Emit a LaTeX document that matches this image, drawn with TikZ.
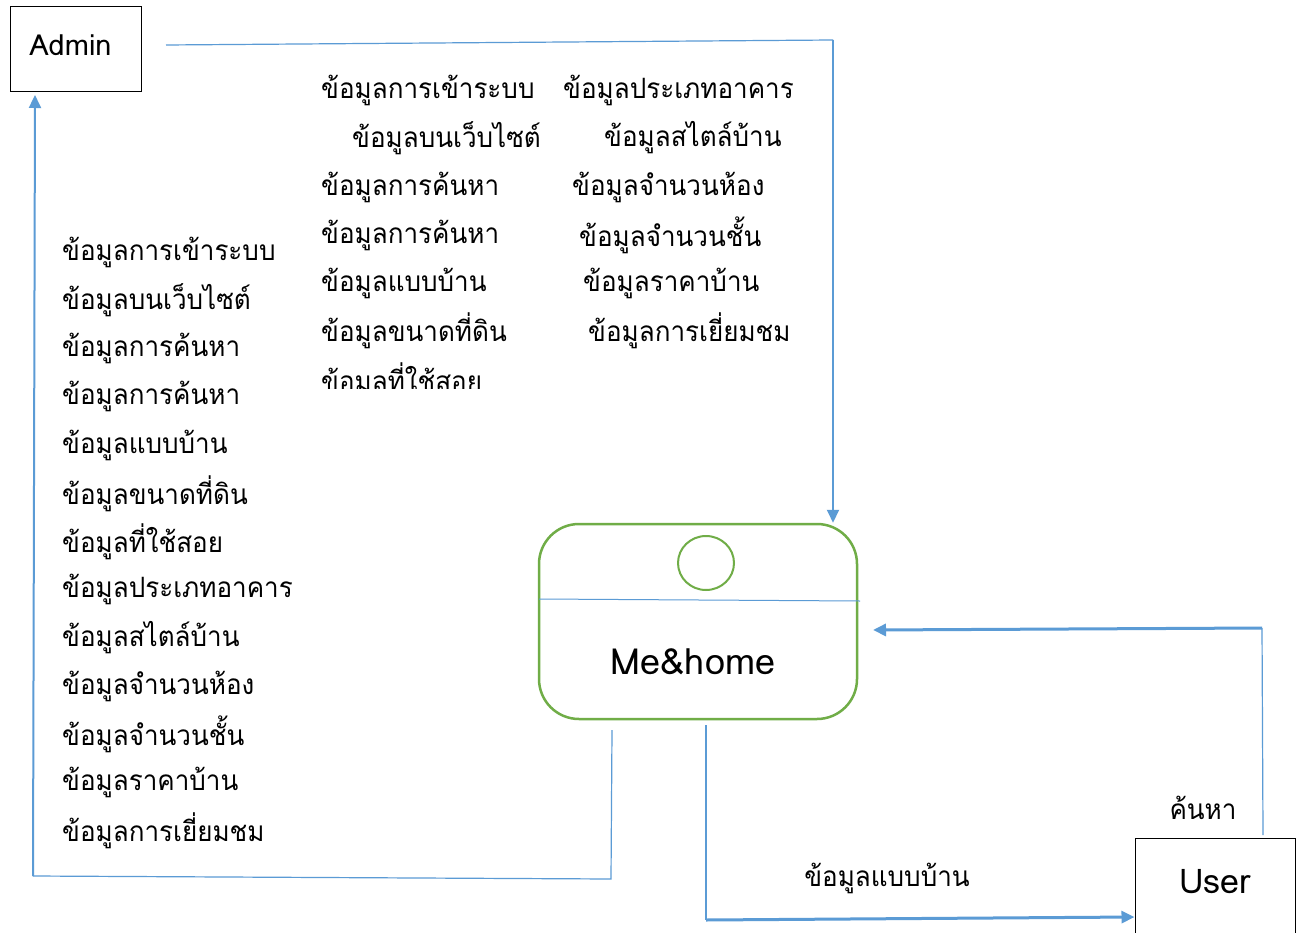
\documentclass[tikz,border=0pt]{standalone}
\usepackage{fontspec}
\newfontfamily\thai[Script=Thai]{Loma}
\newfontfamily\thain[Script=Thai,FakeStretch=0.93]{Loma}
\usetikzlibrary{arrows.meta,shapes.geometric}
\definecolor{lblue}{HTML}{5B9BD5}
\definecolor{lgreen}{HTML}{70AD47}
\tikzset{
  ent/.style={draw=black, line width=1pt, minimum width=131pt, minimum height=85pt, inner sep=0pt},
  flow/.style={draw=lblue, line width=1.2pt},
  flowarr/.style={draw=lblue, line width=2pt, -{Triangle[length=13pt,width=12pt]}, fill=lblue},
  lbl/.style={anchor=west, inner sep=0pt, font=\thain\fontsize{28}{30}\selectfont},
  big/.style={inner sep=0pt, font=\thai\fontsize{#1}{#1}\selectfont},
}
\begin{document}
\begin{tikzpicture}[x=1pt, y=-1pt]
\useasboundingbox (0,0) rectangle (1300,933);
\fill[white] (0,0) rectangle (1300,933);
% entities
\node[ent] (admin) at (75.5,49.5) {};
\node[big=29] (admint) at (70.5,45) {Admin};
\node[ent, minimum width=160pt, minimum height=100pt] (user) at (1215,888) {};
\node[big=34] (usert) at (1215,882) {User};
% process
\node[draw=lgreen, line width=2.5pt, rounded corners=40pt, minimum width=318pt, minimum height=195pt] (me) at (698,621.5) {};
\node[draw=lgreen, line width=2pt, ellipse, minimum width=56pt, minimum height=54pt, inner sep=0pt] (dot) at (706,563) {};
\node[big=36] (met) at (693,662) {Me\&home};
\coordinate (sepl) at (539,599);
\coordinate (sepr) at (860,601);
\draw[lblue, line width=1pt] (sepl) -- (sepr);
% admin -> me
\coordinate (a1) at (166,45);
\coordinate (a2) at (833,40);
\draw[flow] (a1) -- (a2);
\draw[flowarr] (a2) -- (me.north -| a2);
% me -> admin
\coordinate (b1) at (612,730);
\coordinate (b2) at (611,879);
\coordinate (b3) at (33,876);
\draw[flow] (b1) -- (b2) -- (b3);
\draw[flowarr] (b3) -- (35,95) coordinate (b4);
% user -> me
\coordinate (c1) at (1263,835);
\coordinate (c2) at (1262,628);
\coordinate (c3) at (873,630);
\draw[flow] (c1) -- (c2);
\draw[flowarr, line width=3pt] (c2) -- (c3);
% me -> user
\coordinate (d1) at (706,725);
\coordinate (d2) at (706,920);
\draw[flow] (d1) -- (d2);
\draw[flowarr, line width=3pt] (d2) -- (user.west |- 0,917);
% labels
\node[lbl, anchor=center] (lsearch) at (1203,808) {ค้นหา};
\node[lbl, anchor=center] (lhouse) at (887,878) {ข้อมูลแบบบ้าน};
% left column
\foreach \t [count=\i from 0] in {ข้อมูลการเข้าระบบ,ข้อมูลบนเว็บไซต์,ข้อมูลการค้นหา,ข้อมูลการค้นหา,ข้อมูลแบบบ้าน,ข้อมูลขนาดที่ดิน,ข้อมูลที่ใช้สอย,ข้อมูลประเภทอาคาร,ข้อมูลสไตล์บ้าน,ข้อมูลจำนวนห้อง,ข้อมูลจำนวนชั้น,ข้อมูลราคาบ้าน,ข้อมูลการเยี่ยมชม}
  \node[lbl] (l\i) at (62,{252+48.25*\i}) {\t};
% middle columns
\node[lbl] (m0) at (321,90) {ข้อมูลการเข้าระบบ};
\node[lbl] (m1) at (352,138) {ข้อมูลบนเว็บไซต์};
\node[lbl] (m2) at (321,187) {ข้อมูลการค้นหา};
\node[lbl] (m3) at (321,235) {ข้อมูลการค้นหา};
\node[lbl] (m4) at (321,283) {ข้อมูลแบบบ้าน};
\node[lbl] (m5) at (321,331) {ข้อมูลขนาดที่ดิน};
\begin{scope}
\clip (300,350) rectangle (560,388);
\node[lbl] (m6) at (321,381) {ข้อมูลที่ใช้สอย};
\end{scope}
\node[lbl] (r0) at (563,90) {ข้อมูลประเภทอาคาร};
\node[lbl] (r1) at (604,138) {ข้อมูลสไตล์บ้าน};
\node[lbl] (r2) at (572,187) {ข้อมูลจำนวนห้อง};
\node[lbl] (r3) at (579,235) {ข้อมูลจำนวนชั้น};
\node[lbl] (r4) at (583,283) {ข้อมูลราคาบ้าน};
\node[lbl] (r5) at (588,331) {ข้อมูลการเยี่ยมชม};
\end{tikzpicture}
\end{document}
